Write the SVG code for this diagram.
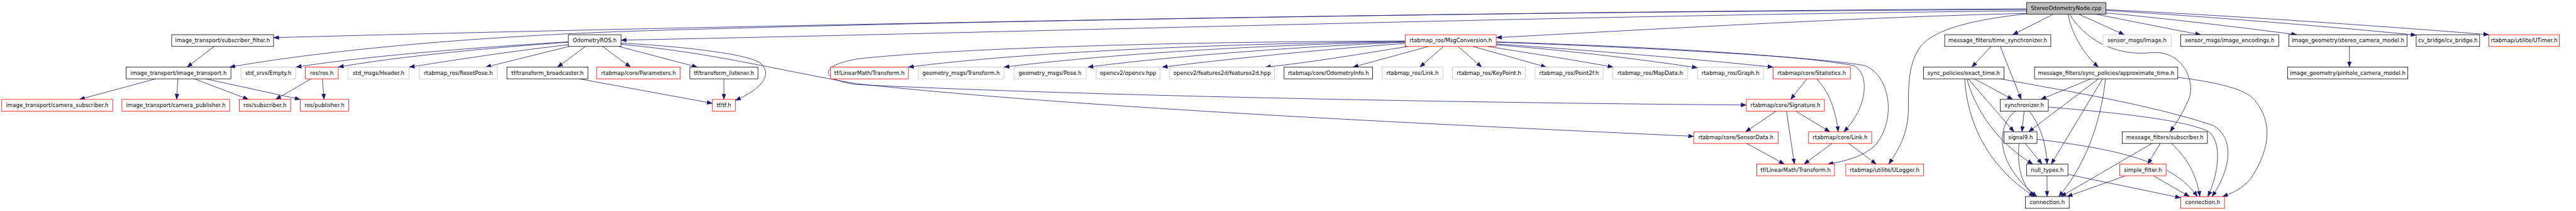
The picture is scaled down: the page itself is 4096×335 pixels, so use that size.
<svg xmlns="http://www.w3.org/2000/svg" width="4096" height="335" viewBox="0 0 4096 335">
<style>
.node rect{fill:#ffffff;stroke-width:1.2}
.blk rect{stroke:#000000}
.red rect{stroke:#ff0000}
.gry rect{stroke:#bfbfbf}
.root rect{fill:#bfbfbf;stroke:#000000}
.node text{font-family:"DejaVu Sans","Liberation Sans",sans-serif;font-size:13px;fill:#000000;text-anchor:middle}
#edges path{fill:none;stroke:#191970;stroke-width:1.2;marker-end:url(#a)}
</style>
<defs>
<marker id="a" viewBox="0 0 13 10" refX="13" refY="5" markerWidth="13" markerHeight="10" markerUnits="userSpaceOnUse" orient="auto"><path d="M0,0 L13,5 L0,10 z" fill="#191970" stroke="#191970" stroke-width="0.5"/></marker>
</defs>
<rect x="0" y="0" width="4096" height="335" fill="#ffffff"/>
<g transform="scale(0.664)">
<g id="edges">
<path d="M4853,21 C3500,28 1700,62 655,90"/>
<path d="M4853,23 C3600,28 2300,50 1530,74 C1100,88 750,125 550,160.5"/>
<path d="M4853,26 C3800,36 2500,76 1487,96"/>
<path d="M4853,32 C4500,40 4100,62 3583,90"/>
<path d="M4853,33 C4700,50 4630,75 4600,110 C4570,150 4570,200 4570,260 C4570,320 4545,360 4523,392.3"/>
<path d="M4917,34 L4820,83"/>
<path d="M4978,34 L5087,83"/>
<path d="M4952,34 C4960,75 4985,125 5025,160.5"/>
<path d="M4956,34 C4990,90 5060,135 5150,126 C5230,118 5260,200 5240,240 C5225,275 5210,295 5197,315"/>
<path d="M5020,34 C5100,50 5200,70 5270,83"/>
<path d="M5043,31 C5200,45 5400,70 5500,83"/>
<path d="M5043,25 C5300,40 5650,70 5786,84"/>
<path d="M5043,23 C5400,40 5800,70 5960,83"/>
<path d="M4768,111 L4722,160.5"/>
<path d="M4790,111 L4840,237.7"/>
<path d="M4728,188.5 L4820,237.7"/>
<path d="M4713,188.5 L4823,315"/>
<path d="M4710,188.5 C4730,260 4780,340 4868,392.3"/>
<path d="M4705,188.5 C4710,290 4760,400 4872,470"/>
<path d="M4790,188.5 C4950,218 5150,250 5300,300 C5350,330 5345,400 5297,470"/>
<path d="M4905,256 C5050,268 5230,285 5290,315 C5320,340 5315,410 5287,470"/>
<path d="M4847,265.7 L4842,315"/>
<path d="M4860,265.7 C4885,300 4900,340 4902,392.3"/>
<path d="M4827,265.7 C4780,300 4775,390 4878,470"/>
<path d="M4850,343 L4890,392.3"/>
<path d="M4835,343 C4830,400 4840,440 4872,470"/>
<path d="M4878,333 C5050,355 5200,380 5262,470"/>
<path d="M4902,420.3 L4902,470"/>
<path d="M4952,417 L5222,473"/>
<path d="M5007,188.5 L4887,237.7"/>
<path d="M5025,188.5 L4858,315"/>
<path d="M5035,188.5 L4912,392.3"/>
<path d="M5042,188.5 C5030,300 4990,400 4930,470"/>
<path d="M5215,185 C5320,198 5380,215 5400,240 C5440,290 5440,350 5390,427 C5370,450 5350,460 5322,470"/>
<path d="M5173,343 L5143,392.3"/>
<path d="M5200,343 C5240,380 5260,420 5268,470"/>
<path d="M5153,343 L4935,470"/>
<path d="M5090,420.3 L4950,470"/>
<path d="M5157,420.3 L5243,470"/>
<path d="M5626,111 L5626,160.5"/>
<path d="M1361,100 C1200,110 900,130 709,160.5"/>
<path d="M1361,101 C1200,112 950,135 810,160.5"/>
<path d="M1361,107 C1200,125 1050,150 980,160.5"/>
<path d="M1363,111 L1163,160.5"/>
<path d="M1402,111 L1335,160.5"/>
<path d="M1443,111 L1510,160.5"/>
<path d="M1482,111 L1670,160.5"/>
<path d="M1487,103 C1650,112 1790,130 1820,150 C1850,175 1830,210 1761,240"/>
<path d="M1487,106 C1700,125 1850,165 2050,200 C2600,260 3500,300 4056,326"/>
<path d="M3421,111 L3240,160.5"/>
<path d="M3373,111 C3250,130 3150,148 3030,160.5"/>
<path d="M3457,111 L3400,160.5"/>
<path d="M3492,111 L3548,160.5"/>
<path d="M3527,111 L3703,160.5"/>
<path d="M3562,111 C3650,125 3780,145 3863,160.5"/>
<path d="M3583,107 C3800,125 3950,145 4065,162"/>
<path d="M3583,105 C3800,120 4050,140 4246,160.5"/>
<path d="M3583,100 C3900,110 4300,130 4440,157 C4480,180 4470,260 4415,315"/>
<path d="M3583,101 C3900,112 4350,135 4467,157 C4530,185 4540,290 4490,348 C4460,375 4420,385 4377,392.3"/>
<path d="M3365,104 C3200,115 2950,140 2783,160.5"/>
<path d="M3365,101 C3100,112 2800,135 2605,160.5"/>
<path d="M3365,100 C3000,108 2650,130 2404,160.5"/>
<path d="M3365,99 C2900,105 2450,125 2175,160.5"/>
<path d="M3365,98 C2800,100 2300,115 2060,140 C1960,155 1960,190 2050,202 C2600,230 3600,247 4182,251"/>
<path d="M4327,188.5 L4288,237.7"/>
<path d="M4350,188.5 C4380,220 4395,260 4402,315"/>
<path d="M4253,265.7 L4180,315"/>
<path d="M4278,265.7 L4297,392.3"/>
<path d="M4300,265.7 L4382,315"/>
<path d="M4183,343 L4273,392.3"/>
<path d="M4387,343 L4320,392.3"/>
<path d="M4427,343 L4493,392.3"/>
<path d="M513,111 L448,160.5"/>
<path d="M373,188.5 L190,237.7"/>
<path d="M426,188.5 L423,237.7"/>
<path d="M465,188.5 L595,237.7"/>
<path d="M492,188.5 L719,237.7"/>
<path d="M745,188.5 L660,237.7"/>
<path d="M772,188.5 L776,237.7"/>
<path d="M1387,188.5 L1706,247"/>
<path d="M1733.5,188.5 L1733.5,237.7"/>
</g>
<g id="n0" class="node root"><rect x="4853" y="6" width="190" height="28"/><text x="4948" y="24.5">StereoOdometryNode.cpp</text></g>
<g id="n1" class="node blk"><rect x="411" y="83" width="244" height="28"/><text x="533" y="101.5">image_transport/subscriber_filter.h</text></g>
<g id="n2" class="node blk"><rect x="1361" y="83" width="126" height="28"/><text x="1424" y="101.5">OdometryROS.h</text></g>
<g id="n3" class="node red"><rect x="3365" y="83" width="218" height="28"/><text x="3474" y="101.5">rtabmap_ros/MsgConversion.h</text></g>
<g id="n4" class="node blk"><rect x="4657" y="83" width="254" height="28"/><text x="4784" y="101.5">message_filters/time_synchronizer.h</text></g>
<g id="n5" class="node gry"><rect x="5036" y="83" width="163" height="28"/><text x="5117.5" y="101.5">sensor_msgs/Image.h</text></g>
<g id="n6" class="node blk"><rect x="5222" y="83" width="235" height="28"/><text x="5339.5" y="101.5">sensor_msgs/image_encodings.h</text></g>
<g id="n7" class="node blk"><rect x="5481" y="83" width="283" height="28"/><text x="5622.5" y="101.5">image_geometry/stereo_camera_model.h</text></g>
<g id="n8" class="node blk"><rect x="5786" y="83" width="152" height="28"/><text x="5862" y="101.5">cv_bridge/cv_bridge.h</text></g>
<g id="n9" class="node red"><rect x="5960" y="83" width="169" height="28"/><text x="6044.5" y="101.5">rtabmap/utilite/UTimer.h</text></g>
<g id="n10" class="node blk"><rect x="302" y="160.5" width="251" height="28"/><text x="427.5" y="179">image_transport/image_transport.h</text></g>
<g id="n11" class="node gry"><rect x="577" y="160.5" width="131" height="28"/><text x="642.5" y="179">std_srvs/Empty.h</text></g>
<g id="n12" class="node red"><rect x="731" y="160.5" width="79" height="28"/><text x="770.5" y="179">ros/ros.h</text></g>
<g id="n13" class="node gry"><rect x="833" y="160.5" width="147" height="28"/><text x="906.5" y="179">std_msgs/Header.h</text></g>
<g id="n14" class="node gry"><rect x="1004" y="160.5" width="187" height="28"/><text x="1097.5" y="179">rtabmap_ros/ResetPose.h</text></g>
<g id="n15" class="node blk"><rect x="1214" y="160.5" width="194" height="28"/><text x="1311" y="179">tf/transform_broadcaster.h</text></g>
<g id="n16" class="node red"><rect x="1429" y="160.5" width="200" height="28"/><text x="1529" y="179">rtabmap/core/Parameters.h</text></g>
<g id="n17" class="node blk"><rect x="1652" y="160.5" width="163" height="28"/><text x="1733.5" y="179">tf/transform_listener.h</text></g>
<g id="n18" class="node red"><rect x="1989" y="160.5" width="186" height="28"/><text x="2082" y="179">tf/LinearMath/Transform.h</text></g>
<g id="n19" class="node gry"><rect x="2199" y="160.5" width="205" height="28"/><text x="2301.5" y="179">geometry_msgs/Transform.h</text></g>
<g id="n20" class="node gry"><rect x="2428" y="160.5" width="173" height="28"/><text x="2514.5" y="179">geometry_msgs/Pose.h</text></g>
<g id="n21" class="node gry"><rect x="2625" y="160.5" width="153" height="28"/><text x="2701.5" y="179">opencv2/opencv.hpp</text></g>
<g id="n22" class="node gry"><rect x="2801" y="160.5" width="251" height="28"/><text x="2926.5" y="179">opencv2/features2d/features2d.hpp</text></g>
<g id="n23" class="node blk"><rect x="3075" y="160.5" width="212" height="28"/><text x="3181" y="179">rtabmap/core/OdometryInfo.h</text></g>
<g id="n24" class="node gry"><rect x="3310" y="160.5" width="145" height="28"/><text x="3382.5" y="179">rtabmap_ros/Link.h</text></g>
<g id="n25" class="node gry"><rect x="3478" y="160.5" width="175" height="28"/><text x="3565.5" y="179">rtabmap_ros/KeyPoint.h</text></g>
<g id="n26" class="node gry"><rect x="3676" y="160.5" width="163" height="28"/><text x="3757.5" y="179">rtabmap_ros/Point2f.h</text></g>
<g id="n27" class="node gry"><rect x="3862" y="160.5" width="179" height="28"/><text x="3951.5" y="179">rtabmap_ros/MapData.h</text></g>
<g id="n28" class="node gry"><rect x="4065" y="160.5" width="158" height="28"/><text x="4144" y="179">rtabmap_ros/Graph.h</text></g>
<g id="n29" class="node red"><rect x="4246" y="160.5" width="185" height="28"/><text x="4338.5" y="179">rtabmap/core/Statistics.h</text></g>
<g id="n30" class="node blk"><rect x="4606" y="160.5" width="193" height="28"/><text x="4702.5" y="179">sync_policies/exact_time.h</text></g>
<g id="n31" class="node blk"><rect x="4872" y="160.5" width="343" height="28"/><text x="5043.5" y="179">message_filters/sync_policies/approximate_time.h</text></g>
<g id="n32" class="node blk"><rect x="5478" y="160.5" width="288" height="28"/><text x="5622" y="179">image_geometry/pinhole_camera_model.h</text></g>
<g id="n33" class="node red"><rect x="4" y="237.7" width="266" height="28"/><text x="137" y="256.2">image_transport/camera_subscriber.h</text></g>
<g id="n34" class="node red"><rect x="292" y="237.7" width="258" height="28"/><text x="421" y="256.2">image_transport/camera_publisher.h</text></g>
<g id="n35" class="node red"><rect x="573" y="237.7" width="123" height="28"/><text x="634.5" y="256.2">ros/subscriber.h</text></g>
<g id="n36" class="node red"><rect x="719" y="237.7" width="116" height="28"/><text x="777" y="256.2">ros/publisher.h</text></g>
<g id="n37" class="node red"><rect x="1706" y="237.7" width="55" height="28"/><text x="1733.5" y="256.2">tf/tf.h</text></g>
<g id="n38" class="node red"><rect x="4182" y="237.7" width="187" height="28"/><text x="4275.5" y="256.2">rtabmap/core/Signature.h</text></g>
<g id="n39" class="node blk"><rect x="4790" y="237.7" width="115" height="28"/><text x="4847.5" y="256.2">synchronizer.h</text></g>
<g id="n40" class="node red"><rect x="4056" y="315" width="202" height="28"/><text x="4157" y="333.5">rtabmap/core/SensorData.h</text></g>
<g id="n41" class="node red"><rect x="4331" y="315" width="151" height="28"/><text x="4406.5" y="333.5">rtabmap/core/Link.h</text></g>
<g id="n42" class="node blk"><rect x="4799" y="315" width="79" height="28"/><text x="4838.5" y="333.5">signal9.h</text></g>
<g id="n43" class="node blk"><rect x="5082" y="315" width="204" height="28"/><text x="5184" y="333.5">message_filters/subscriber.h</text></g>
<g id="n44" class="node red"><rect x="4207" y="392.3" width="186" height="28"/><text x="4300" y="410.8">tf/LinearMath/Transform.h</text></g>
<g id="n45" class="node red"><rect x="4420" y="392.3" width="186" height="28"/><text x="4513" y="410.8">rtabmap/utilite/ULogger.h</text></g>
<g id="n46" class="node blk"><rect x="4853" y="392.3" width="99" height="28"/><text x="4902.5" y="410.8">null_types.h</text></g>
<g id="n47" class="node red"><rect x="5076" y="392.3" width="111" height="28"/><text x="5131.5" y="410.8">simple_filter.h</text></g>
<g id="n48" class="node blk"><rect x="4850" y="470" width="105" height="28"/><text x="4902.5" y="488.5">connection.h</text></g>
<g id="n49" class="node red"><rect x="5222" y="470" width="105" height="28"/><text x="5274.5" y="488.5">connection.h</text></g>
</g>
</svg>
